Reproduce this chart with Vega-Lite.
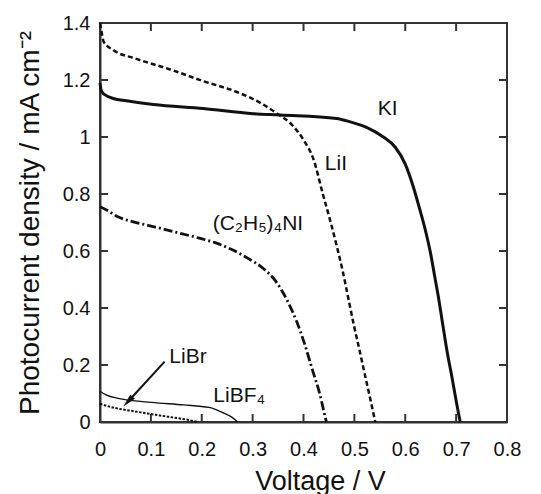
{
  "$schema": "https://vega.github.io/schema/vega-lite/v6.json",
  "width": 407,
  "height": 399,
  "autosize": {"type": "none"},
  "padding": {"left": 100, "top": 23, "right": 34, "bottom": 72},
  "background": "white",
  "config": {
    "view": {"stroke": "#333", "strokeWidth": 2},
    "font": "Liberation Sans",
    "axis": {
      "grid": false,
      "domain": true,
      "domainColor": "#333",
      "domainWidth": 2,
      "ticks": false,
      "tickSize": 0,
      "labelFont": "Liberation Sans",
      "labelFontSize": 20,
      "labelColor": "#111",
      "labelFlush": false,
      "labelOverlap": false,
      "labelBound": false,
      "titleFont": "Liberation Sans",
      "titleFontWeight": "normal",
      "titleColor": "#111"
    }
  },
  "datasets": {
    "curves": [
      {"s": "KI", "v": 0, "j": 1.19}, {"s": "KI", "v": 0.003, "j": 1.16}, {"s": "KI", "v": 0.01, "j": 1.148}, {"s": "KI", "v": 0.026, "j": 1.135}, {"s": "KI", "v": 0.052, "j": 1.127}, {"s": "KI", "v": 0.105, "j": 1.114}, {"s": "KI", "v": 0.203, "j": 1.1}, {"s": "KI", "v": 0.301, "j": 1.082}, {"s": "KI", "v": 0.354, "j": 1.077}, {"s": "KI", "v": 0.465, "j": 1.065}, {"s": "KI", "v": 0.492, "j": 1.053}, {"s": "KI", "v": 0.525, "j": 1.033}, {"s": "KI", "v": 0.557, "j": 1.0}, {"s": "KI", "v": 0.58, "j": 0.965}, {"s": "KI", "v": 0.6, "j": 0.905}, {"s": "KI", "v": 0.615, "j": 0.83}, {"s": "KI", "v": 0.628, "j": 0.75}, {"s": "KI", "v": 0.64, "j": 0.67}, {"s": "KI", "v": 0.65, "j": 0.59}, {"s": "KI", "v": 0.658, "j": 0.51}, {"s": "KI", "v": 0.665, "j": 0.44}, {"s": "KI", "v": 0.673, "j": 0.35}, {"s": "KI", "v": 0.682, "j": 0.25}, {"s": "KI", "v": 0.692, "j": 0.155}, {"s": "KI", "v": 0.701, "j": 0.065}, {"s": "KI", "v": 0.708, "j": 0},
      {"s": "LiI", "v": 0, "j": 1.4}, {"s": "LiI", "v": 0.003, "j": 1.37}, {"s": "LiI", "v": 0.007, "j": 1.335}, {"s": "LiI", "v": 0.026, "j": 1.305}, {"s": "LiI", "v": 0.07, "j": 1.275}, {"s": "LiI", "v": 0.138, "j": 1.237}, {"s": "LiI", "v": 0.203, "j": 1.196}, {"s": "LiI", "v": 0.269, "j": 1.158}, {"s": "LiI", "v": 0.315, "j": 1.12}, {"s": "LiI", "v": 0.35, "j": 1.08}, {"s": "LiI", "v": 0.376, "j": 1.045}, {"s": "LiI", "v": 0.4, "j": 0.99}, {"s": "LiI", "v": 0.42, "j": 0.92}, {"s": "LiI", "v": 0.438, "j": 0.8}, {"s": "LiI", "v": 0.452, "j": 0.71}, {"s": "LiI", "v": 0.465, "j": 0.62}, {"s": "LiI", "v": 0.477, "j": 0.53}, {"s": "LiI", "v": 0.488, "j": 0.435}, {"s": "LiI", "v": 0.499, "j": 0.34}, {"s": "LiI", "v": 0.511, "j": 0.245}, {"s": "LiI", "v": 0.522, "j": 0.155}, {"s": "LiI", "v": 0.532, "j": 0.075}, {"s": "LiI", "v": 0.539, "j": 0.017}, {"s": "LiI", "v": 0.541, "j": 0},
      {"s": "TEA", "v": 0, "j": 0.755}, {"s": "TEA", "v": 0.012, "j": 0.745}, {"s": "TEA", "v": 0.035, "j": 0.72}, {"s": "TEA", "v": 0.062, "j": 0.704}, {"s": "TEA", "v": 0.094, "j": 0.69}, {"s": "TEA", "v": 0.127, "j": 0.676}, {"s": "TEA", "v": 0.16, "j": 0.661}, {"s": "TEA", "v": 0.193, "j": 0.646}, {"s": "TEA", "v": 0.225, "j": 0.63}, {"s": "TEA", "v": 0.258, "j": 0.606}, {"s": "TEA", "v": 0.29, "j": 0.575}, {"s": "TEA", "v": 0.32, "j": 0.54}, {"s": "TEA", "v": 0.345, "j": 0.495}, {"s": "TEA", "v": 0.367, "j": 0.43}, {"s": "TEA", "v": 0.386, "j": 0.355}, {"s": "TEA", "v": 0.402, "j": 0.275}, {"s": "TEA", "v": 0.418, "j": 0.18}, {"s": "TEA", "v": 0.431, "j": 0.105}, {"s": "TEA", "v": 0.441, "j": 0.03}, {"s": "TEA", "v": 0.445, "j": 0},
      {"s": "LiBF4", "v": 0, "j": 0.108}, {"s": "LiBF4", "v": 0.012, "j": 0.095}, {"s": "LiBF4", "v": 0.038, "j": 0.082}, {"s": "LiBF4", "v": 0.101, "j": 0.069}, {"s": "LiBF4", "v": 0.164, "j": 0.06}, {"s": "LiBF4", "v": 0.2145, "j": 0.051}, {"s": "LiBF4", "v": 0.24, "j": 0.034}, {"s": "LiBF4", "v": 0.259, "j": 0.017}, {"s": "LiBF4", "v": 0.271, "j": 0},
      {"s": "LiBr", "v": 0, "j": 0.064}, {"s": "LiBr", "v": 0.025, "j": 0.051}, {"s": "LiBr", "v": 0.069, "j": 0.037}, {"s": "LiBr", "v": 0.132, "j": 0.019}, {"s": "LiBr", "v": 0.177, "j": 0.006}, {"s": "LiBr", "v": 0.192, "j": 0}
    ],
    "labels": [
      {"t": "KI", "v": 0.546, "j": 1.077},
      {"t": "LiI", "v": 0.442, "j": 0.884},
      {"t": "(C₂H₅)₄NI", "v": 0.2215, "j": 0.674},
      {"t": "LiBr", "v": 0.1362, "j": 0.208},
      {"t": "LiBF₄", "v": 0.2227, "j": 0.071}
    ],
    "arrow": [
      {"v": 0.127, "j": 0.212, "v2": 0.0566, "j2": 0.0747}
    ],
    "bottomTicks": [{"v": 0.1, "j": 0}, {"v": 0.2, "j": 0}, {"v": 0.3, "j": 0}, {"v": 0.4, "j": 0}, {"v": 0.5, "j": 0}, {"v": 0.6, "j": 0}, {"v": 0.7, "j": 0}],
    "topTicks": [{"v": 0.1, "j": 1.4}, {"v": 0.2, "j": 1.4}, {"v": 0.3, "j": 1.4}, {"v": 0.4, "j": 1.4}, {"v": 0.5, "j": 1.4}, {"v": 0.6, "j": 1.4}, {"v": 0.7, "j": 1.4}],
    "leftTicks": [{"v": 0, "j": 0.2}, {"v": 0, "j": 0.4}, {"v": 0, "j": 0.6}, {"v": 0, "j": 0.8}, {"v": 0, "j": 1.0}, {"v": 0, "j": 1.2}],
    "rightTicks": [{"v": 0.8, "j": 0.2}, {"v": 0.8, "j": 0.4}, {"v": 0.8, "j": 0.6}, {"v": 0.8, "j": 0.8}, {"v": 0.8, "j": 1.0}, {"v": 0.8, "j": 1.2}]
  },
  "encoding": {
    "x": {"field": "v", "type": "quantitative", "scale": {"domain": [0, 0.8], "nice": false, "zero": false},
          "axis": {"orient": "bottom", "values": [0, 0.1, 0.2, 0.3, 0.4, 0.5, 0.6, 0.7, 0.8], "format": ".1~f", "labelPadding": 17, "title": "Voltage / V", "titleFontSize": 27, "titleX": 220, "titleAlign": "center", "titleY": 67, "titleBaseline": "alphabetic"}},
    "y": {"field": "j", "type": "quantitative", "scale": {"domain": [0, 1.4], "nice": false, "zero": false},
          "axis": {"orient": "left", "values": [0, 0.2, 0.4, 0.6, 0.8, 1, 1.2, 1.4], "format": ".1~f", "labelPadding": 10, "title": "Photocurrent density / mA cm⁻²", "titleFontSize": 28, "titleX": -62, "titleBaseline": "alphabetic"}}
  },
  "layer": [
    {
      "data": {"name": "bottomTicks"},
      "mark": {"type": "tick", "orient": "vertical", "size": 8, "thickness": 2, "color": "#333", "opacity": 1, "yOffset": -4}
    },
    {
      "data": {"name": "topTicks"},
      "mark": {"type": "tick", "orient": "vertical", "size": 8, "thickness": 2, "color": "#333", "opacity": 1, "yOffset": 4}
    },
    {
      "data": {"name": "leftTicks"},
      "mark": {"type": "tick", "orient": "horizontal", "size": 8, "thickness": 2, "color": "#333", "opacity": 1, "xOffset": 4}
    },
    {
      "data": {"name": "rightTicks"},
      "mark": {"type": "tick", "orient": "horizontal", "size": 8, "thickness": 2, "color": "#333", "opacity": 1, "xOffset": -4}
    },
    {
      "data": {"name": "curves"},
      "transform": [{"filter": "datum.s === 'KI'"}],
      "mark": {"type": "line", "color": "#111", "strokeWidth": 3, "interpolate": "monotone"}
    },
    {
      "data": {"name": "curves"},
      "transform": [{"filter": "datum.s === 'LiI'"}],
      "mark": {"type": "line", "color": "#111", "strokeWidth": 2.5, "strokeDash": [5, 3], "interpolate": "monotone"}
    },
    {
      "data": {"name": "curves"},
      "transform": [{"filter": "datum.s === 'TEA'"}],
      "mark": {"type": "line", "color": "#111", "strokeWidth": 2.8, "strokeDash": [9, 3, 2, 3], "interpolate": "monotone"}
    },
    {
      "data": {"name": "curves"},
      "transform": [{"filter": "datum.s === 'LiBF4'"}],
      "mark": {"type": "line", "color": "#111", "strokeWidth": 1.3, "interpolate": "monotone"}
    },
    {
      "data": {"name": "curves"},
      "transform": [{"filter": "datum.s === 'LiBr'"}],
      "mark": {"type": "line", "color": "#111", "strokeWidth": 2, "strokeDash": [2.5, 1.5], "interpolate": "monotone"}
    },
    {
      "data": {"name": "labels"},
      "mark": {"type": "text", "align": "left", "baseline": "alphabetic", "fontSize": 21, "font": "Liberation Sans", "color": "#111"},
      "encoding": {"text": {"field": "t"}}
    },
    {
      "data": {"name": "arrow"},
      "mark": {"type": "rule", "color": "#111", "strokeWidth": 2},
      "encoding": {"x2": {"field": "v2"}, "y2": {"field": "j2"}}
    },
    {
      "data": {"name": "arrow"},
      "mark": {"type": "point", "shape": "M0,-1L0.38,0.7L-0.38,0.7Z", "filled": true, "color": "#111", "opacity": 1, "size": 256, "angle": 223},
      "encoding": {
        "x": {"field": "v2", "type": "quantitative"},
        "y": {"field": "j2", "type": "quantitative"}
      }
    }
  ]
}
